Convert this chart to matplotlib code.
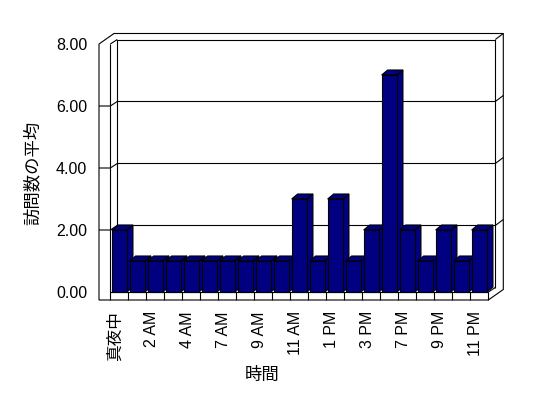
import matplotlib
matplotlib.use("Agg")
import matplotlib.pyplot as plt
from matplotlib.patches import Polygon
import numpy as np

plt.rcParams['font.family'] = ['Liberation Sans', 'Noto Sans CJK JP']

# ---------------- data ----------------
categories = ["真夜中", "1 AM", "2 AM", "3 AM", "4 AM", "5 AM", "7 AM", "8 AM",
              "9 AM", "10 AM", "11 AM", "正午", "1 PM", "2 PM", "3 PM", "5 PM",
              "7 PM", "8 PM", "9 PM", "10 PM", "11 PM"]
values = [2, 1, 1, 1, 1, 1, 1, 1, 1, 1, 3, 1, 3, 1, 2, 7, 2, 1, 2, 1, 2]
y_ticks = [0, 2, 4, 6, 8]
y_tick_labels = ["0.00", "2.00", "4.00", "6.00", "8.00"]
x_title = "時間"
y_title = "訪問数の平均"

# ---------------- layout ----------------
W, H = 548, 398
N = len(categories)
YMAX = 8
X0PX, SLOT = 110.3, 18.0      # pixel of category 0 left edge, slot width
Y0PX, UNIT = 292.0, 31.0      # pixel of value 0, pixels per unit
xlim = (-0.8, 22.0)
ylim = (-0.45, 8.6)

fig = plt.figure(figsize=(W / 100, H / 100), dpi=100)
left = X0PX + SLOT * xlim[0]
right = X0PX + SLOT * xlim[1]
top = Y0PX - UNIT * ylim[1]
bottom = Y0PX - UNIT * ylim[0]
ax = fig.add_axes([left / W, 1 - bottom / H, (right - left) / W, (bottom - top) / H])
ax.set_xlim(*xlim)
ax.set_ylim(*ylim)
ax.patch.set_alpha(0)

# depth offsets (data units)
Dx, Dy = 7 / SLOT, 4.5 / UNIT      # front plane -> back wall inner face
Tx, Ty = 8 / SLOT, 6 / UNIT        # wall thickness
Bx, By = 6 / SLOT, 5 / UNIT        # bar depth
WL = -11.3 / SLOT                  # left wall front outer edge
FB = -8 / UNIT                     # floor bottom

navy = "#000080"
lw = 0.8
kw = dict(color="black", lw=lw, clip_on=False, solid_capstyle="butt")

# outer silhouette of walls + floor
sil = Polygon([(WL, FB), (WL, YMAX), (WL + Dx + Tx, YMAX + Dy + Ty),
               (N + Dx + Tx, YMAX + Dy + Ty), (N + Dx + Tx, FB + Dy + Ty),
               (N, FB)], closed=True, facecolor="white", edgecolor="black",
              lw=lw, zorder=1, clip_on=False, joinstyle="miter")
ax.add_patch(sil)

# left wall inner edges
ax.plot([0, 0], [FB, YMAX], zorder=2, **kw)
ax.plot([0, Dx], [YMAX, YMAX + Dy], zorder=2, **kw)
# back wall inner face
ax.plot([Dx, Dx, N + Dx, N + Dx], [Dy, YMAX + Dy, YMAX + Dy, Dy], zorder=2, **kw)
ax.plot([N + Dx, N + Dx + Tx], [YMAX + Dy, YMAX + Dy + Ty], zorder=2, **kw)
# floor
ax.plot([0, N, N], [0, 0, FB], zorder=2, **kw)
ax.plot([N, N + Dx], [0, Dy], zorder=2, **kw)
for i in range(1, N):
    ax.plot([i, i], [FB, 0], zorder=2, **kw)

# gridlines
for v in y_ticks[1:-1]:
    ax.plot([WL, 0, Dx, N + Dx, N + Dx + Tx],
            [v, v, v + Dy, v + Dy, v + Dy + Ty], zorder=2, **kw)

# bars
xs = np.arange(N) + 0.5
bars = ax.bar(xs, values, width=0.85, color=navy, edgecolor="black",
              linewidth=lw)
for i, r in enumerate(bars):
    x0 = r.get_x()
    x1 = x0 + r.get_width()
    h = r.get_height()
    z = 3 + i * 0.1
    side = Polygon([(x1, 0), (x1, h), (x1 + Bx, h + By), (x1 + Bx, By)],
                   closed=True, facecolor=navy, edgecolor="black", lw=lw,
                   zorder=z, clip_on=False)
    topf = Polygon([(x0, h), (x1, h), (x1 + Bx, h + By), (x0 + Bx, h + By)],
                   closed=True, facecolor=navy, edgecolor="black", lw=lw,
                   zorder=z, clip_on=False)
    ax.add_patch(side)
    ax.add_patch(topf)
    r.set_zorder(z + 0.05)
    r.set_clip_on(False)

# axes / ticks
for s in ax.spines.values():
    s.set_visible(False)
ax.spines['left'].set_position(('data', WL))
ax.spines['bottom'].set_position(('data', FB))
ax.set_yticks(y_ticks, y_tick_labels)
ax.set_xticks(xs[::2] - 0.22, categories[::2], rotation=90)
ax.tick_params(axis='y', length=0, pad=8.6, labelsize=11.5)
ax.tick_params(axis='x', length=0, pad=8, labelsize=11.5)
ax.get_xticklabels()[0].set_fontsize(12)

ax.set_ylabel(y_title, fontsize=12.5)
ax.yaxis.set_label_coords(41 / W, 1 - 173.3 / H, transform=fig.transFigure)
ax.set_xlabel(x_title, fontsize=12.5)
ax.xaxis.set_label_coords(262.5 / W, 1 - 367 / H, transform=fig.transFigure)

fig.savefig("out.png", dpi=100)
